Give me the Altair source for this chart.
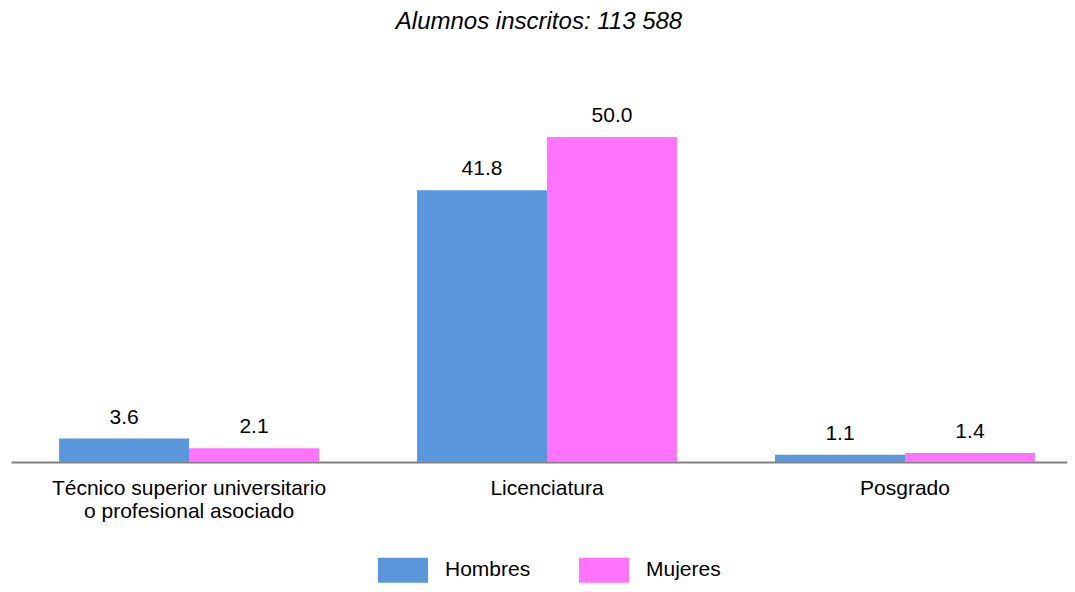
import altair as alt
import pandas as pd

categorias = ["Técnico superior universitario\no profesional asociado", "Licenciatura", "Posgrado"]
series = ["Hombres", "Mujeres"]
hombres = [3.6, 41.8, 1.1]
mujeres = [2.1, 50.0, 1.4]
titulo = "Alumnos inscritos: 113 588"
colores = ["#5A96DC", "#FF73FF"]

rows = []
for c, h, m in zip(categorias, hombres, mujeres):
    rows.append({"nivel": c, "sexo": "Hombres", "valor": h})
    rows.append({"nivel": c, "sexo": "Mujeres", "valor": m})
df = pd.DataFrame(rows)

FONT = "Liberation Sans"

base = alt.Chart(df).encode(
    x=alt.X(
        "nivel:N",
        sort=categorias,
        scale=alt.Scale(paddingInner=0.274, paddingOuter=0.112, align=0.6),
        axis=alt.Axis(
            title=None,
            labelAngle=0,
            ticks=False,
            tickSize=0,
            labelPadding=15,
            labelFontSize=21,
            labelFont=FONT,
            labelColor="#000000",
            labelLineHeight=23,
            labelLimit=0,
            labelExpr="split(datum.label, '\\n')",
            domainColor="#808080",
            domainWidth=2,
            grid=False,
        ),
    ),
    xOffset=alt.XOffset("sexo:N", sort=series, scale=alt.Scale(paddingInner=0, paddingOuter=0)),
    y=alt.Y("valor:Q", scale=alt.Scale(domain=[0, 62]), axis=None),
)

bars = base.mark_bar(strokeWidth=0).encode(
    color=alt.Color(
        "sexo:N",
        sort=series,
        scale=alt.Scale(domain=series, range=colores),
        legend=alt.Legend(
            title=None,
            orient="none",
            direction="horizontal",
            legendX=367,
            legendY=486,
            symbolType="M-1,-0.5L1,-0.5L1,0.5L-1,0.5Z",
            symbolSize=2500,
            symbolStrokeWidth=0,
            labelFontSize=21,
            labelFont=FONT,
            labelColor="#000000",
            labelOffset=17,
            labelLimit=0,
            columnPadding=48,
            padding=0,
        ),
    )
)

text = base.mark_text(dy=-15, baseline="alphabetic", fontSize=21, font=FONT, color="#000000").encode(
    text=alt.Text("valor:Q", format=".1f")
)

chart = (
    alt.layer(bars, text)
    .properties(
        width=1056,
        height=403,
        padding={"left": 3, "top": 2, "right": 0, "bottom": 0},
        title=alt.TitleParams(
            titulo,
            fontSize=24,
            font=FONT,
            fontStyle="italic",
            fontWeight="normal",
            color="#000000",
            anchor="middle",
            offset=25,
        ),
    )
    .configure_view(stroke=None)
)

chart.save("out.html", embed_options={"renderer": "svg", "actions": False})
